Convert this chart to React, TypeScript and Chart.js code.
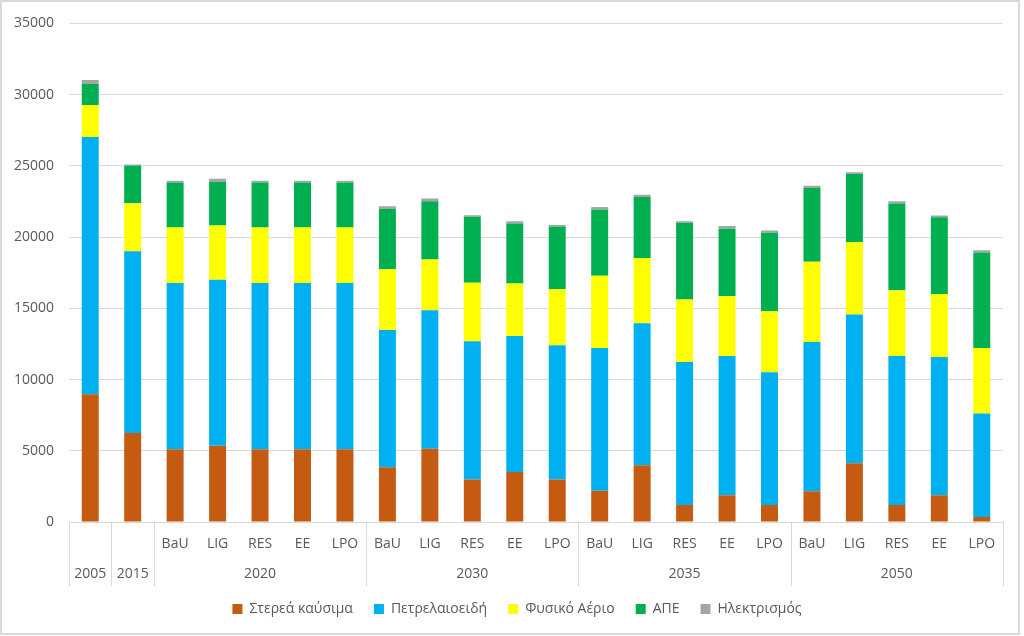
import React, { useEffect, useRef } from "react";
import { Chart, registerables } from "chart.js";

Chart.register(...registerables);

const years = ["2005", "2015", "2020", "2030", "2035", "2050"];
const scenarios = ["BaU", "LIG", "RES", "EE", "LPO"];
const groupSizes = [1, 1, 5, 5, 5, 5];

const seriesNames = ["Στερεά καύσιμα", "Πετρελαιοειδή", "Φυσικό Αέριο", "ΑΠΕ", "Ηλεκτρισμός"];
const seriesColors = ["#C55A11", "#00B0F0", "#FFFF00", "#00B050", "#A5A5A5"];

const solidFuels = [8970, 6240, 5100, 5360, 5100, 5100, 5100, 3840, 5140, 2980, 3510, 2980, 2190, 3980, 1190, 1880, 1190, 2160, 4120, 1190, 1880, 350];
const oilProducts = [18050, 12770, 11670, 11640, 11670, 11670, 11680, 9630, 9720, 9700, 9540, 9420, 10020, 9980, 10040, 9770, 9320, 10470, 10440, 10460, 9700, 7260];
const naturalGas = [2260, 3370, 3910, 3820, 3910, 3910, 3900, 4280, 3560, 4110, 3700, 3930, 5070, 4580, 4380, 4190, 4280, 5630, 5070, 4610, 4420, 4600];
const renewables = [1470, 2620, 3150, 3060, 3150, 3150, 3150, 4230, 4100, 4630, 4210, 4420, 4650, 4280, 5390, 4750, 5520, 5190, 4790, 6090, 5400, 6700];
const electricity = [280, 90, 120, 210, 120, 120, 120, 190, 180, 120, 160, 90, 190, 160, 120, 180, 160, 160, 140, 160, 120, 160];

const yTicks = [0, 5000, 10000, 15000, 20000, 25000, 30000, 35000];

const innerLabels: string[] = [];
const outerLabels: string[] = [];
years.forEach((y, gi) => {
  if (groupSizes[gi] === 1) {
    innerLabels.push("");
    outerLabels.push(y);
  } else {
    scenarios.forEach((s) => {
      innerLabels.push(s);
      outerLabels.push(y);
    });
  }
});
const categoryLabels = innerLabels.map((s, i) => (s ? outerLabels[i] + " " + s : outerLabels[i]));

const FONT = "'Open Sans', 'Noto Sans', sans-serif";
const TEXT_COLOR = "#595959";
const GRID_COLOR = "#D9D9D9";

const multiLevelPlugin = {
  id: "multiLevel",
  afterLayout(chart: any) {
    if (chart.legend) chart.legend.left = 31;
  },
  beforeDraw(chart: any) {
    const ctx = chart.ctx;
    ctx.save();
    ctx.fillStyle = "#ffffff";
    ctx.fillRect(0, 0, chart.width, chart.height);
    ctx.restore();
  },
  afterDraw(chart: any) {
    const ctx = chart.ctx;
    const xs = chart.scales.x;
    const area = chart.chartArea;
    const n = categoryLabels.length;
    const step = xs.getPixelForValue(1) - xs.getPixelForValue(0);
    const y0 = area.bottom;
    const innerY = y0 + 22;
    const outerY = y0 + 52;
    const lineBottom = y0 + 64;
    ctx.save();
    ctx.strokeStyle = GRID_COLOR;
    ctx.lineWidth = 1;
    ctx.fillStyle = TEXT_COLOR;
    ctx.font = "14px " + FONT;
    ctx.textAlign = "center";
    ctx.textBaseline = "middle";
    for (let i = 0; i < n; i++) {
      if (innerLabels[i]) ctx.fillText(innerLabels[i], xs.getPixelForValue(i), innerY);
    }
    let start = 0;
    groupSizes.forEach((size, gi) => {
      const left = xs.getPixelForValue(start) - step / 2;
      const right = xs.getPixelForValue(start + size - 1) + step / 2;
      ctx.fillText(years[gi], (left + right) / 2, outerY);
      const lx = Math.round(left) + 0.5;
      ctx.beginPath();
      ctx.moveTo(lx, y0);
      ctx.lineTo(lx, lineBottom);
      ctx.stroke();
      if (gi === groupSizes.length - 1) {
        const rx = Math.round(right) + 0.5;
        ctx.beginPath();
        ctx.moveTo(rx, y0);
        ctx.lineTo(rx, lineBottom);
        ctx.stroke();
      }
      start += size;
    });
    ctx.strokeStyle = "#D9D9D9";
    ctx.lineWidth = 2;
    ctx.strokeRect(1, 1, 1018, 633);
    ctx.restore();
  },
};

export default function App() {
  const canvasRef = useRef<HTMLCanvasElement | null>(null);

  useEffect(() => {
    if (!canvasRef.current) return;
    const data = [solidFuels, oilProducts, naturalGas, renewables, electricity];
    const chart = new Chart(canvasRef.current, {
      type: "bar",
      data: {
        labels: categoryLabels,
        datasets: data.map((values, i) => ({
          label: seriesNames[i],
          data: values,
          backgroundColor: seriesColors[i],
          borderWidth: 0,
          barPercentage: 0.4,
          categoryPercentage: 1.0,
        })),
      },
      options: {
        responsive: false,
        animation: false,
        devicePixelRatio: 1,
        layout: { padding: { top: 20, right: 21, bottom: 10, left: 0 } },
        plugins: {
          legend: {
            position: "bottom",
            labels: {
              boxWidth: 10,
              boxHeight: 10,
              padding: 21,
              color: TEXT_COLOR,
              font: { size: 14, family: FONT },
            },
          },
          tooltip: { enabled: false },
        },
        scales: {
          x: {
            stacked: true,
            grid: { display: false, drawTicks: false },
            border: { display: true, color: GRID_COLOR },
            ticks: { display: false },
            afterFit: (s: any) => {
              s.height = 59;
            },
          },
          y: {
            stacked: true,
            min: 0,
            max: 35000,
            afterBuildTicks: (s: any) => {
              s.ticks = yTicks.map((v) => ({ value: v }));
            },
            grid: { color: GRID_COLOR, drawTicks: false },
            border: { display: false },
            ticks: {
              padding: 15,
              color: TEXT_COLOR,
              font: { size: 14, family: FONT },
              callback: (v: any) => String(v),
            },
            afterFit: (s: any) => {
              s.width = 69;
            },
          },
        },
      },
      plugins: [multiLevelPlugin],
    });
    return () => chart.destroy();
  }, []);

  return (
    <div style={{ position: "absolute", left: 0, top: 0, width: 1024, height: 636, background: "#fff" }}>
      <canvas ref={canvasRef} width={1024} height={636} style={{ width: 1024, height: 636, display: "block" }} />
    </div>
  );
}
